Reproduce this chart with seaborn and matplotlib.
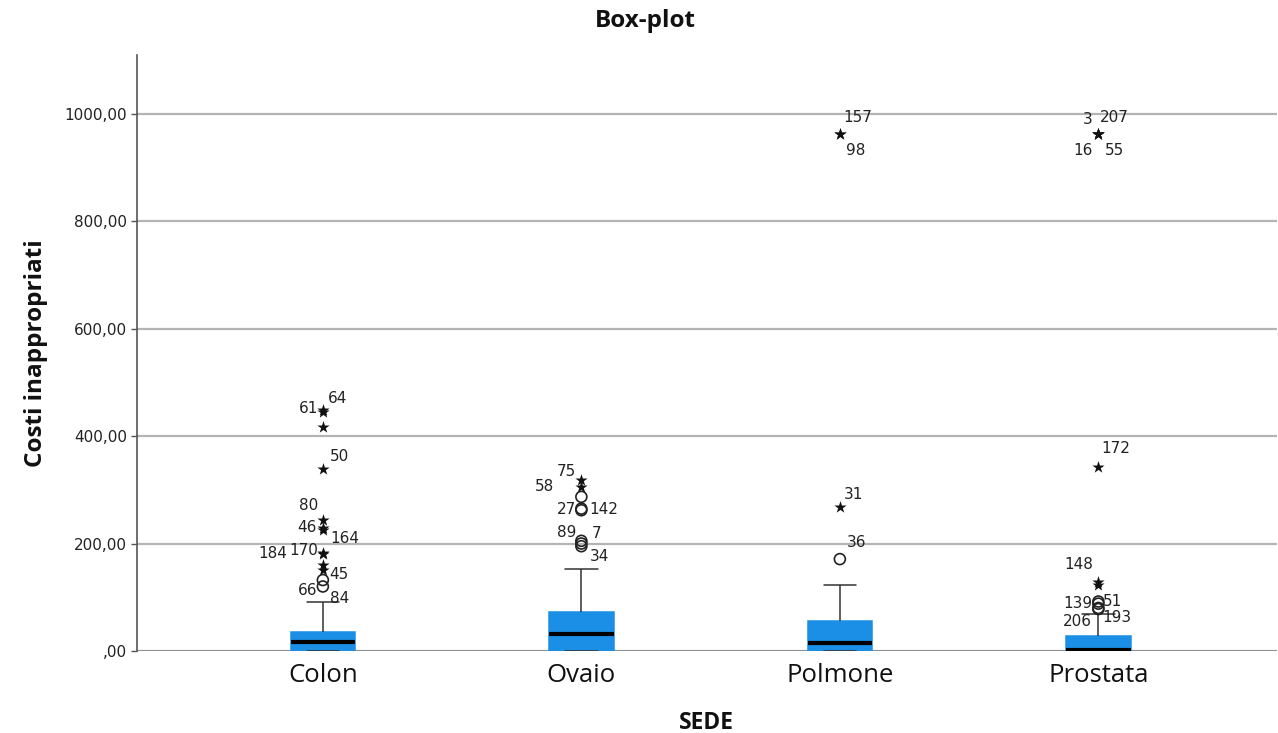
import numpy as np
import pandas as pd
import matplotlib
matplotlib.use("Agg")
import matplotlib.pyplot as plt
import seaborn as sns
from matplotlib.ticker import FuncFormatter

# ---------------- data ----------------
categories = ["Colon", "Ovaio", "Polmone", "Prostata"]

# box statistics (lower whisker, Q1, median, Q3, upper whisker)
whisker_lo = [0, 0, 0, 0]
q1 = [0, 0, 0, 0]
median = [16, 31, 14, 2]
q3 = [35, 72, 55, 28]
whisker_hi = [92, 153, 123, 69]

# outliers: values, marker kind ('o' mild, '*' extreme) and case labels
colon_out = [449, 445, 417, 339, 244, 229, 226, 182, 180, 160, 151, 132, 120]
colon_kind = ["*", "*", "*", "*", "*", "*", "*", "*", "*", "*", "*", "o", "o"]
colon_lab = ["61", "64", "", "50", "80", "46", "164", "184", "170", "", "45", "66", "84"]

ovaio_out = [318, 305, 287, 265, 262, 205, 200, 195]
ovaio_kind = ["*", "*", "o", "o", "o", "o", "o", "o"]
ovaio_lab = ["75", "58", "", "27", "142", "89", "7", "34"]

polmone_out = [963, 962, 268, 171]
polmone_kind = ["*", "*", "*", "o"]
polmone_lab = ["157", "98", "31", "36"]

prostata_out = [963, 963, 962, 962, 343, 129, 123, 92, 88, 80, 78]
prostata_kind = ["*", "*", "*", "*", "*", "*", "*", "o", "o", "o", "o"]
prostata_lab = ["3", "207", "16", "55", "172", "148", "", "139", "51", "206", "193"]

title = "Box-plot"
x_label = "SEDE"
y_label = "Costi inappropriati"

# ---------------- build frames ----------------
rows = []
for i, c in enumerate(categories):
    for v in [whisker_lo[i], q1[i], median[i], q3[i], whisker_hi[i]]:
        rows.append({"SEDE": c, "valore": v})
box_df = pd.DataFrame(rows)

outliers = {
    "Colon": (colon_out, colon_kind, colon_lab),
    "Ovaio": (ovaio_out, ovaio_kind, ovaio_lab),
    "Polmone": (polmone_out, polmone_kind, polmone_lab),
    "Prostata": (prostata_out, prostata_kind, prostata_lab),
}

# label placements (offset in pixels, horizontal alignment)
label_pos = {
    "Colon": [(-5, 1, "right"), (5, 13, "left"), None, (7, 12, "left"),
              (-5, 14, "right"), (-6, 0, "right"), (7, -9, "left"),
              (-36, 0, "right"), (-5, 4, "right"), None, (6, -5, "left"),
              (-5, -10, "right"), (7, -12, "left")],
    "Ovaio": [(-5, 9, "right"), (-27, 1, "right"), None, (-5, -1, "right"),
              (8, 1, "left"), (-5, 8, "right"), (10, 10, "left"), (8, -10, "left")],
    "Polmone": [(3, 16, "left"), (6, -16, "left"), (4, 13, "left"), (7, 17, "left")],
    "Prostata": [(-6, 14, "right"), (2, 16, "left"), (-6, -16, "right"), (7, -16, "left"),
                 (3, 18, "left"), (-5, 17, "right"), None, (-6, -2, "right"),
                 (5, 2, "left"), (-6, -14, "right"), (4, -8, "left")],
}

# ---------------- plot ----------------
sns.set_theme(style="white")
plt.rcParams["font.family"] = ["DejaVu Sans"]

fig = plt.figure(figsize=(12.78, 7.33), dpi=100)
ax = fig.add_axes([0.107, 0.112, 0.892, 0.813])

box_color = "#1b8fe6"
sns.boxplot(
    data=box_df, x="SEDE", y="valore", order=categories,
    whis=(0, 100), showfliers=False, width=0.25,
    color=box_color, saturation=1, linecolor="#333333", linewidth=1.1,
    boxprops=dict(facecolor=box_color, edgecolor=box_color),
    medianprops=dict(color="black", linewidth=3),
    ax=ax, zorder=3,
)

for i, c in enumerate(categories):
    vals, kinds, labs = outliers[c]
    for j, (v, k, lab) in enumerate(zip(vals, kinds, labs)):
        if k == "o":
            ax.scatter([i], [v], marker="o", s=62, facecolors="none",
                       edgecolors="#222222", linewidths=1.2, zorder=4)
        else:
            ax.scatter([i], [v], marker="*", s=85, color="#111111",
                       linewidths=0, zorder=4)
        pos = label_pos[c][j]
        if lab and pos is not None:
            dx, dy, ha = pos
            ax.annotate(lab, (i, v), xytext=(dx, dy), textcoords="offset pixels",
                        ha=ha, va="center", fontsize=11, color="#222222",
                        family="DejaVu Sans", zorder=5)

ax.set_xlim(-0.72, 3.69)
ax.set_ylim(0, 1110)
ax.set_yticks([0, 200, 400, 600, 800, 1000])


def fmt(v, pos):
    s = f"{v:.2f}".replace(".", ",")
    return ",00" if v == 0 else s


ax.yaxis.set_major_formatter(FuncFormatter(fmt))
ax.yaxis.grid(True, color="#b4b4b4", linewidth=1.6, zorder=0)
ax.set_axisbelow(True)
ax.axhline(0, color="#8c8c8c", linewidth=2, zorder=2)

for s in ["top", "right", "bottom"]:
    ax.spines[s].set_visible(False)
ax.spines["left"].set_color("#555555")
ax.spines["left"].set_linewidth(1.2)

ax.tick_params(axis="y", which="both", left=True, length=4, width=1,
               color="#555555", labelsize=11, labelcolor="#222222", pad=3)
ax.tick_params(axis="x", bottom=False, labelsize=18.5, pad=3)
for t in ax.get_xticklabels():
    t.set_family("Open Sans")
    t.set_color("#111111")

ax.set_xlabel(x_label, fontsize=16.5, fontweight="bold", family="Open Sans",
              labelpad=16, color="#111111")
ax.set_ylabel(y_label, fontsize=17.5, fontweight="bold", family="Open Sans",
              labelpad=12, color="#111111")
fig.suptitle(title, x=0.505, y=0.988, fontsize=17.5, fontweight="bold",
             family="Open Sans", color="#111111")

fig.savefig("out.png", dpi=100, facecolor="white")
